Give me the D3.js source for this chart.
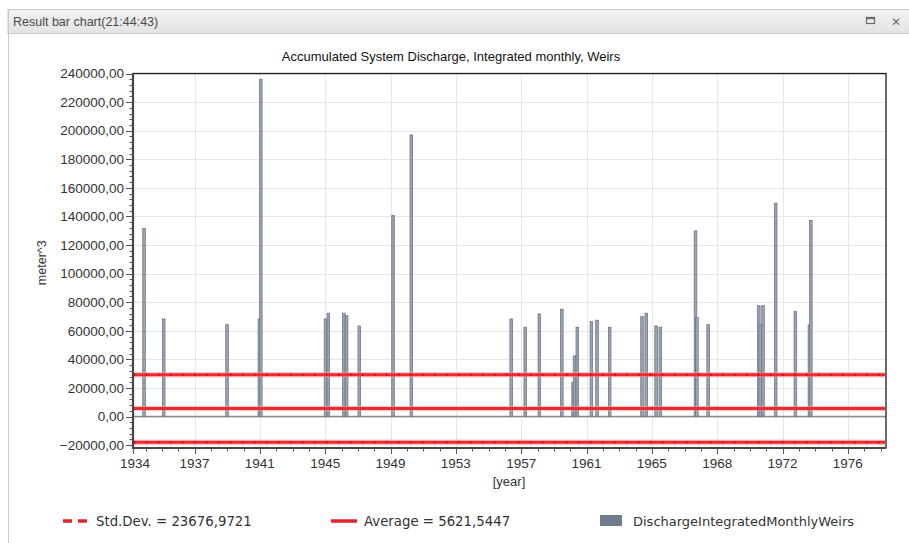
<!DOCTYPE html>
<html>
<head>
<meta charset="utf-8">
<script src="https://cdn.jsdelivr.net/npm/d3@7"></script>
<style>
  html, body { margin: 0; padding: 0; background: #ffffff; }
  svg { display: block; }
</style>
</head>
<body>
<svg id="chart" width="909" height="543"></svg>
<script>
// ---- texts ----
const windowTitle = "Result bar chart(21:44:43)";
const chartTitle = "Accumulated System Discharge, Integrated monthly, Weirs";
const yAxisTitle = "meter^3";
const xAxisTitle = "[year]";
const seriesName = "DischargeIntegratedMonthlyWeirs";

// ---- monthly weir discharge (months without spill are zero and not listed) ----
const months = [
  "1934-12", "1936-02", "1939-11", "1941-10", "1941-11", "1945-09",
  "1945-11", "1946-10", "1946-12", "1947-09", "1949-09", "1950-10",
  "1956-09", "1957-07", "1958-05", "1959-09", "1960-05", "1960-06",
  "1960-08", "1961-06", "1961-10", "1962-07", "1964-06", "1964-09",
  "1965-04", "1965-07", "1967-08", "1967-09", "1968-05", "1971-05",
  "1971-06", "1971-08", "1972-05", "1973-07", "1974-05", "1974-06"
];
const discharge = [
  131500, 68300, 64300, 68300, 235900, 68300,
  72300, 72300, 70600, 63400, 140800, 197000,
  68300, 62500, 71800, 75100, 23800, 42400,
  62500, 66400, 67400, 62500, 69900, 72300,
  63400, 62500, 129900, 69400, 64300, 77600,
  64300, 77600, 149200, 73400, 64100, 137100
];

// ---- statistics of the full monthly series ----
const stdDev = 23676.9721;
const average = 5621.5447;

// ---- axes ----
const xTickLabels = ["1934", "1937", "1941", "1945", "1949", "1953",
                     "1957", "1961", "1965", "1968", "1972", "1976"];
const yTickValues = [-20000, 0, 20000, 40000, 60000, 80000, 100000, 120000,
                     140000, 160000, 180000, 200000, 220000, 240000];
const xStart = 1934.305, xEnd = 1978.91;     // axis range, decimal years
const tickOrigin = 1934.08, tickStep = 3.87; // date-axis major step (years)
const yMin = -22000, yMax = 240000;

// ---- layout ----
const plot = { left: 133, right: 886, top: 73.5, bottom: 448 };
const svg = d3.select("#chart");
const num = d3.formatLocale({ decimal: ",", thousands: "", grouping: [3], currency: ["", ""] });
const fmt2 = num.format(".2f");
const fmt4 = num.format(".4f");

const x = d3.scaleLinear().domain([xStart, xEnd]).range([plot.left, plot.right]);
const y = d3.scaleLinear().domain([yMin, yMax]).range([plot.bottom, plot.top]);

const toYear = m => { const [yy, mm] = m.split("-").map(Number); return yy + (mm - 0.5) / 12; };
const bars = months.map((m, i) => ({ t: toYear(m), v: discharge[i] }));

// ---- window chrome ----
const chromeGrad = svg.append("defs").append("linearGradient")
  .attr("id", "titlebar").attr("x1", 0).attr("y1", 0).attr("x2", 0).attr("y2", 1);
chromeGrad.append("stop").attr("offset", "0%").attr("stop-color", "#f2f2f2");
chromeGrad.append("stop").attr("offset", "100%").attr("stop-color", "#e3e3e3");

svg.append("rect").attr("x", 8).attr("y", 9.5).attr("width", 909).attr("height", 24)
  .attr("fill", "url(#titlebar)").attr("stroke", "#c9c9c9");
svg.append("line").attr("x1", 8.5).attr("x2", 8.5).attr("y1", 9).attr("y2", 543)
  .attr("stroke", "#c9c9c9");
svg.append("text").attr("x", 13).attr("y", 26)
  .attr("font-family", "Liberation Sans, Arial, sans-serif").attr("font-size", 12.5)
  .attr("fill", "#4a4a4a").text(windowTitle);
// maximize and close glyphs
svg.append("rect").attr("x", 866.5).attr("y", 17.5).attr("width", 8).attr("height", 6)
  .attr("fill", "none").attr("stroke", "#6a6a6a").attr("stroke-width", 1.2);
svg.append("line").attr("x1", 866.5).attr("x2", 874.5).attr("y1", 18.3).attr("y2", 18.3)
  .attr("stroke", "#6a6a6a").attr("stroke-width", 1.8);
svg.append("text").attr("x", 896).attr("y", 25.5).attr("text-anchor", "middle")
  .attr("font-family", "DejaVu Sans, sans-serif").attr("font-size", 12)
  .attr("fill", "#707070").text("\u2715");

// ---- title ----
svg.append("text").attr("x", 451).attr("y", 61).attr("text-anchor", "middle")
  .attr("font-family", "Liberation Sans, Arial, sans-serif").attr("font-size", 13)
  .attr("fill", "#111").text(chartTitle);

// ---- grid ----
const xMajor = [xStart].concat(d3.range(1, xTickLabels.length).map(k => tickOrigin + k * tickStep));
const xMinor = d3.range(0, 4 * xTickLabels.length + 4)
  .map(k => tickOrigin + k * tickStep / 4)
  .filter(v => v >= xStart && v <= xEnd);
const yMinor = d3.range(yMin, yMax + 1, 4000).map(v => Math.ceil(v / 4000) * 4000)
  .filter(v => v >= yMin && v <= yMax);

const grid = svg.append("g").attr("stroke", "#e6e6e6").attr("stroke-width", 1);
grid.selectAll("line.h").data(yTickValues).join("line").attr("class", "h")
  .attr("x1", plot.left).attr("x2", plot.right)
  .attr("y1", d => Math.round(y(d)) + 0.5).attr("y2", d => Math.round(y(d)) + 0.5);
grid.selectAll("line.v").data(xMajor.slice(1)).join("line").attr("class", "v")
  .attr("x1", d => Math.round(x(d)) + 0.5).attr("x2", d => Math.round(x(d)) + 0.5)
  .attr("y1", plot.top).attr("y2", plot.bottom);

// zero line
svg.append("line").attr("x1", plot.left).attr("x2", plot.right)
  .attr("y1", y(0)).attr("y2", y(0)).attr("stroke", "#8c8c8c").attr("stroke-width", 1.4);

// ---- bars ----
svg.append("g").selectAll("rect").data(bars).join("rect")
  .attr("x", d => x(d.t) - 1.3).attr("width", 2.6)
  .attr("y", d => y(d.v)).attr("height", d => y(0) - y(d.v))
  .attr("fill", "#9ba4b1").attr("stroke", "#6d7888").attr("stroke-width", 0.8);

// ---- average and ±1 standard deviation lines ----
const statLines = [
  { v: average + stdDev, dashed: true },
  { v: average, dashed: false },
  { v: average - stdDev, dashed: true }
];
const stats = svg.append("g");
// soft halo under each line
stats.selectAll("line.halo").data(statLines).join("line").attr("class", "halo")
  .attr("x1", plot.left + 1).attr("x2", plot.right - 1)
  .attr("y1", d => y(d.v)).attr("y2", d => y(d.v))
  .attr("stroke", "#f39a9c").attr("stroke-width", 5.5).attr("stroke-opacity", 0.55);
stats.selectAll("line.base").data(statLines).join("line").attr("class", "base")
  .attr("x1", plot.left + 1).attr("x2", plot.right - 1)
  .attr("y1", d => y(d.v)).attr("y2", d => y(d.v))
  .attr("stroke", "#ec2a30").attr("stroke-width", 3);
// dash joints of the std.dev. lines
stats.selectAll("line.dash").data(statLines.filter(d => d.dashed)).join("line").attr("class", "dash")
  .attr("x1", plot.left + 1).attr("x2", plot.right - 1)
  .attr("y1", d => y(d.v)).attr("y2", d => y(d.v))
  .attr("stroke", "#b3161c").attr("stroke-width", 2.2)
  .attr("stroke-dasharray", "1.4,10.6");

// ---- frame ----
svg.append("rect").attr("x", plot.left).attr("y", plot.top)
  .attr("width", plot.right - plot.left).attr("height", plot.bottom - plot.top)
  .attr("fill", "none").attr("stroke", "#1e1e1e").attr("stroke-width", 1.3);
svg.append("path")
  .attr("d", `M${plot.left},${plot.top}V${plot.bottom}H${plot.right}`)
  .attr("fill", "none").attr("stroke", "#444").attr("stroke-width", 2.2);

// ---- y axis ----
const yAxis = svg.append("g").attr("stroke", "#555");
yAxis.selectAll("line.maj").data(yTickValues).join("line").attr("class", "maj")
  .attr("x1", plot.left - 7).attr("x2", plot.left)
  .attr("y1", d => Math.round(y(d)) + 0.5).attr("y2", d => Math.round(y(d)) + 0.5);
yAxis.selectAll("line.min").data(yMinor).join("line").attr("class", "min")
  .attr("x1", plot.left - 3.5).attr("x2", plot.left)
  .attr("y1", d => Math.round(y(d)) + 0.5).attr("y2", d => Math.round(y(d)) + 0.5);
svg.append("g").selectAll("text").data(yTickValues).join("text")
  .attr("x", plot.left - 9).attr("y", d => y(d)).attr("dy", "0.35em")
  .attr("text-anchor", "end")
  .attr("font-family", "Liberation Sans, Arial, sans-serif").attr("font-size", 13.5)
  .attr("fill", "#333").text(d => fmt2(d));
svg.append("text")
  .attr("transform", `translate(46,${(plot.top + plot.bottom) / 2 + 2}) rotate(-90)`)
  .attr("text-anchor", "middle")
  .attr("font-family", "Liberation Sans, Arial, sans-serif").attr("font-size", 12.5)
  .attr("fill", "#333").text(yAxisTitle);

// ---- x axis ----
const xAxis = svg.append("g").attr("stroke", "#555");
xAxis.selectAll("line.maj").data(xMajor).join("line").attr("class", "maj")
  .attr("x1", d => Math.round(x(d)) + 0.5).attr("x2", d => Math.round(x(d)) + 0.5)
  .attr("y1", plot.bottom).attr("y2", plot.bottom + 6);
xAxis.selectAll("line.min").data(xMinor).join("line").attr("class", "min")
  .attr("x1", d => Math.round(x(d)) + 0.5).attr("x2", d => Math.round(x(d)) + 0.5)
  .attr("y1", plot.bottom).attr("y2", plot.bottom + 3.5);
svg.append("g").selectAll("text").data(xMajor).join("text")
  .attr("x", (d, i) => x(d) + (i === 0 ? 2 : 0)).attr("y", plot.bottom + 20)
  .attr("text-anchor", "middle")
  .attr("font-family", "Liberation Sans, Arial, sans-serif").attr("font-size", 13.5)
  .attr("fill", "#333").text((d, i) => xTickLabels[i]);
svg.append("text").attr("x", 509).attr("y", 486).attr("text-anchor", "middle")
  .attr("font-family", "Liberation Sans, Arial, sans-serif").attr("font-size", 13)
  .attr("fill", "#333").text(xAxisTitle);

// ---- legend ----
const legendY = 521;
const legendFont = "DejaVu Sans, Verdana, sans-serif";
const lg = svg.append("g");
lg.append("line").attr("x1", 63).attr("x2", 88).attr("y1", legendY).attr("y2", legendY)
  .attr("stroke", "#e0242a").attr("stroke-width", 3.5).attr("stroke-dasharray", "9,6");
lg.append("text").attr("x", 96).attr("y", legendY).attr("dy", "0.35em")
  .attr("font-family", legendFont).attr("font-size", 13.3).attr("fill", "#333")
  .text("Std.Dev. = " + fmt4(stdDev));
lg.append("line").attr("x1", 331).attr("x2", 357).attr("y1", legendY).attr("y2", legendY)
  .attr("stroke", "#e0242a").attr("stroke-width", 3.5);
lg.append("text").attr("x", 364).attr("y", legendY).attr("dy", "0.35em")
  .attr("font-family", legendFont).attr("font-size", 13.3).attr("fill", "#333")
  .text("Average = " + fmt4(average));
lg.append("rect").attr("x", 600).attr("y", legendY - 6).attr("width", 22).attr("height", 11)
  .attr("fill", "#6f7c8d");
lg.append("text").attr("x", 633).attr("y", legendY).attr("dy", "0.35em")
  .attr("font-family", legendFont).attr("font-size", 13).attr("fill", "#333")
  .text(seriesName);
</script>
</body>
</html>
